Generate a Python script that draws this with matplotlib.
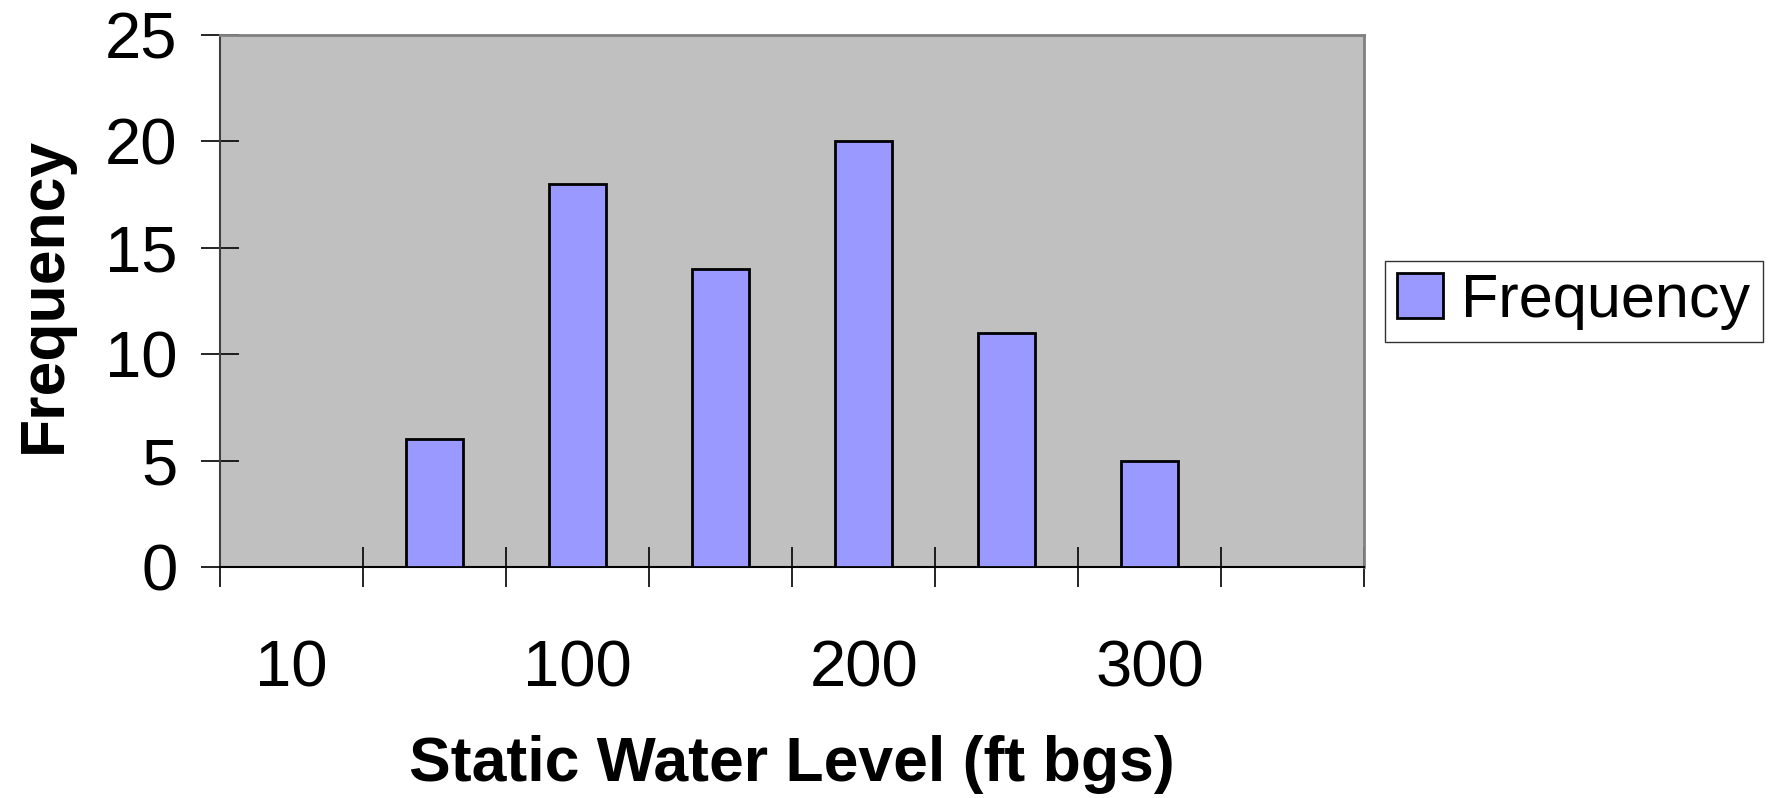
import matplotlib
matplotlib.use('Agg')
import matplotlib.pyplot as plt
import numpy as np

plt.rcParams['font.family'] = ['Liberation Sans', 'DejaVu Sans']

# histogram data: 8 bins, only every other bin is labelled on the chart
bin_labels = ['10', '', '100', '', '200', '', '300', '']
frequency = [0, 6, 18, 14, 20, 11, 5, 0]

fig = plt.figure(figsize=(17.72, 7.98), dpi=100)
ax = fig.add_axes([0.124, 0.2895, 0.646, 0.6665])

x = np.arange(len(frequency))
ax.bar(x, frequency, width=0.4, color='#9999FF', edgecolor='black', linewidth=2, label='Frequency', zorder=3)

ax.set_facecolor('#C0C0C0')
ax.set_xlim(-0.5, len(frequency) - 0.5)
ax.set_ylim(0, 25)
ax.set_yticks(np.arange(0, 26, 5))

# major ticks at bin edges, labels on minor ticks at bin centres
ax.set_xticks(np.arange(-0.5, len(frequency), 1.0))
ax.set_xticklabels([])
lab_pos = [i for i, s in enumerate(bin_labels) if s]
ax.set_xticks(lab_pos, minor=True)
ax.set_xticklabels([bin_labels[i] for i in lab_pos], minor=True)

ax.tick_params(axis='x', which='major', direction='inout', length=29, width=1.2, color='black')
ax.tick_params(axis='x', which='minor', length=0, pad=52, labelsize=47)
ax.tick_params(axis='y', direction='inout', length=27, width=1.2, color='black', labelsize=47, pad=17)

for side in ['top', 'right']:
    ax.spines[side].set_color('#808080')
    ax.spines[side].set_linewidth(2)
ax.spines['left'].set_color('#404040')
ax.spines['left'].set_linewidth(1.5)
ax.spines['bottom'].set_color('black')
ax.spines['bottom'].set_linewidth(1.5)

ax.set_xlabel('Static Water Level (ft bgs)', fontsize=45, fontweight='bold')
ax.xaxis.label.set_va('center')
ax.xaxis.set_label_coords(0.5, -0.372)
ax.set_ylabel('Frequency', fontsize=45, fontweight='bold')
ax.yaxis.label.set_va('center')
ax.yaxis.set_label_coords(-0.153, 0.512)

leg = ax.legend(loc='upper left', bbox_to_anchor=(0.7816, 0.673), bbox_transform=fig.transFigure,
                borderaxespad=0, fontsize=44, fancybox=False, frameon=True,
                handlelength=0.75, handleheight=0.75, handletextpad=0.3, borderpad=0.2)
leg.get_frame().set_edgecolor('black')
leg.get_frame().set_linewidth(1)

fig.savefig('out.png', dpi=100, facecolor='white')
